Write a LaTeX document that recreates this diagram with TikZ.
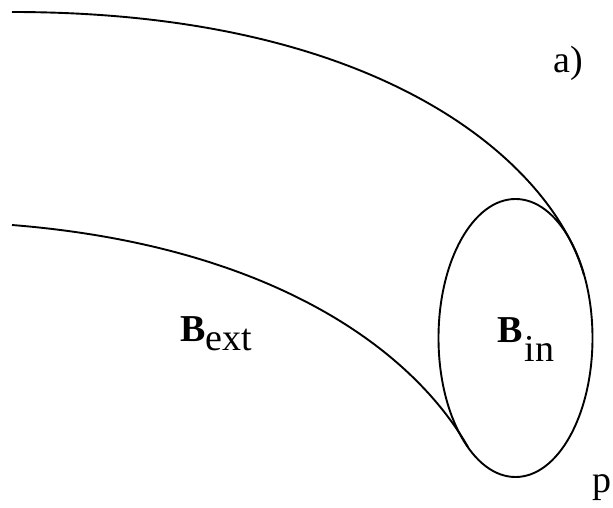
\documentclass[tikz,border=0pt]{standalone}
\usepackage{fontspec}
\setmainfont{Liberation Serif}
\begin{document}
\begin{tikzpicture}[x=1pt,y=-1pt,
  curve/.style={line width=1.9pt,black},
  lbl/.style={inner sep=0pt,anchor=base west,font=\fontsize{38}{44}\selectfont}]
\useasboundingbox (0,0) rectangle (613,508);
% shapes
\draw[curve] (515.5,338) ellipse [x radius=77pt, y radius=139pt];
\coordinate (u0) at (12,12);
\coordinate (u1) at (584,275);
\coordinate (l0) at (12,225);
\coordinate (l1) at (468,447);
\draw[curve] (u0) .. controls (392,12) and (554,169) .. (u1);
\draw[curve] (l0) .. controls (262,245) and (408,343) .. (l1);
% labels
\node[lbl] (bext) at (180,341) {\textbf{B}\raisebox{-9pt}{ext}};
\node[lbl] (bin) at (497,342) {\textbf{B}\hspace{2pt}\raisebox{-19pt}{in}};
\node[lbl] (a) at (553,73) {a)};
\node[lbl] (p) at (592,492) {p};
\end{tikzpicture}
\end{document}
